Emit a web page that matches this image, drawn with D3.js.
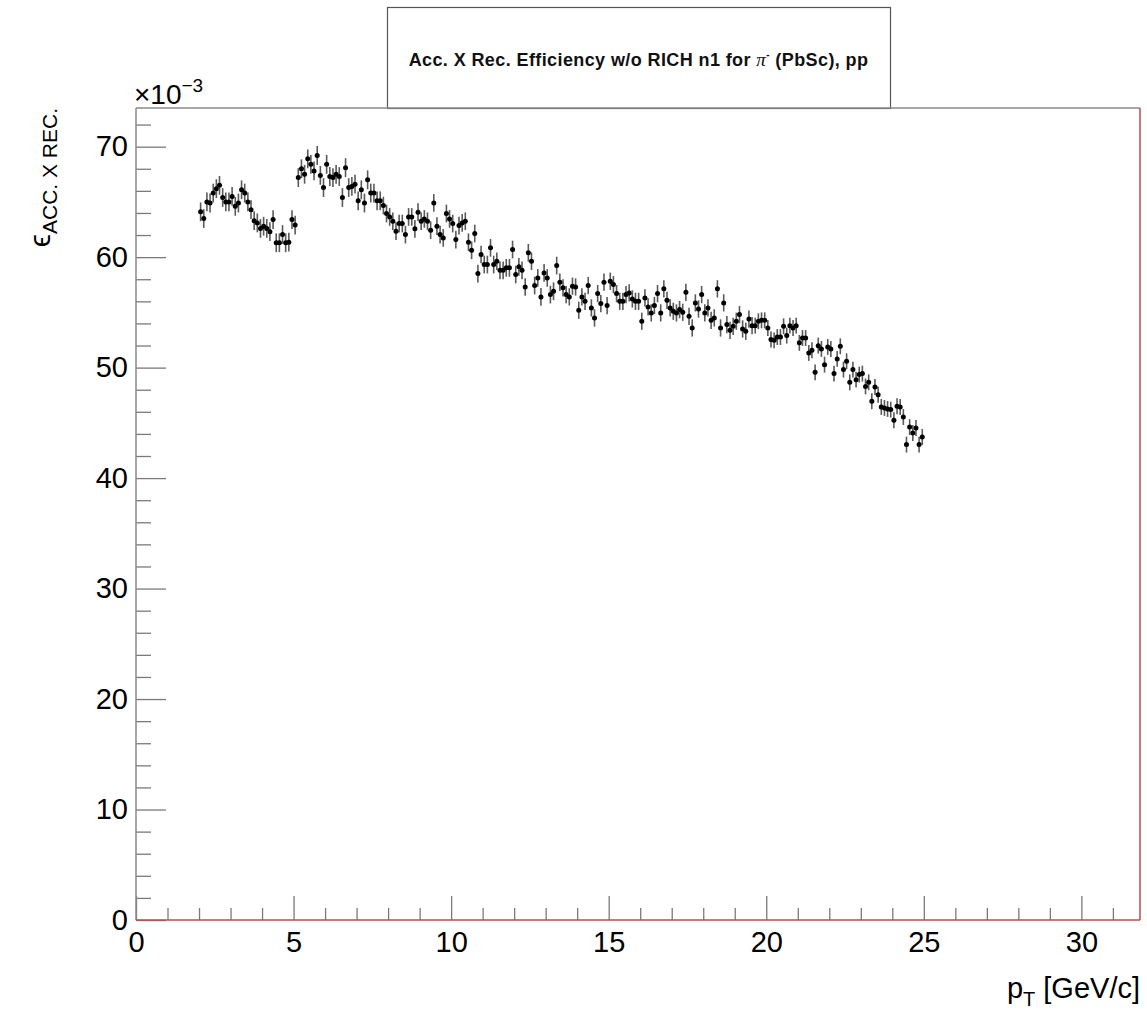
<!DOCTYPE html>
<html>
<head>
<meta charset="utf-8">
<script src="https://cdn.jsdelivr.net/npm/d3@7"></script>
<style>
  html, body { margin: 0; padding: 0; background: #fff; }
  svg { display: block; font-family: "Liberation Sans", Arial, Helvetica, sans-serif; }
</style>
</head>
<body>
<svg id="chart" width="1147" height="1010"></svg>
<script>
// Histogram binning in pT (GeV/c)
const binStart = 2.0;
const binWidth = 0.1;

// Efficiency per bin, in units of 1e-3
const effValues = [
  // 2.0 - 5.1
  64.1, 63.5, 65.0, 64.9, 65.8, 66.2, 66.5, 65.4, 65.0, 65.0,
  65.5, 64.6, 64.9, 66.1, 65.8, 65.0, 64.3, 63.3, 63.1, 62.6,
  62.8, 62.6, 62.3, 63.4, 61.3, 61.3, 62.05, 61.3, 61.35, 63.4,
  62.9,
  // 5.1 - 7.8
  67.2, 68.0, 67.5, 68.9, 68.4, 67.8, 69.2, 67.4, 66.3, 68.4,
  67.3, 67.2, 67.5, 67.3, 65.4, 68.1, 66.3, 66.4, 66.6, 65.1,
  66.1, 64.9, 67.0, 65.8, 65.8, 65.1, 65.1,
  // 7.8 - 13.5
  64.67, 63.95, 63.64, 63.25, 62.35, 63.04, 63.04, 62.04, 63.64, 63.64,
  62.56, 64.07, 63.25, 63.46, 63.25, 62.44, 64.91, 62.8, 62.04, 61.74,
  63.95, 63.46, 63.04, 61.59, 62.86, 63.1, 63.25, 61.35, 60.62, 62.14,
  58.51, 60.24, 59.33, 59.33, 60.84, 59.33, 59.63, 58.81, 58.81, 59.03,
  59.03, 60.69, 58.42, 59.12, 58.81, 57.3, 60.39, 59.63, 57.43, 58.12,
  56.4, 58.57, 58.12, 56.61, 56.91, 59.24, 57.73,
  // 13.5 - 19.6
  57.22, 56.61, 56.4, 57.37, 57.3, 55.19, 56.4, 56.0, 57.43, 55.4,
  54.5, 56.7, 55.8, 57.73, 55.62, 57.82, 57.52, 56.7, 56.0, 56.0,
  56.61, 56.76, 56.22, 56.0, 56.0, 54.2, 56.31, 55.49, 54.95, 55.62,
  56.7, 54.95, 57.13, 56.09, 55.4, 55.1, 54.95, 55.25, 55.01, 56.82,
  54.64, 53.59, 55.86, 55.31, 56.61, 54.95, 55.4, 54.28, 54.5, 57.13,
  53.59, 55.86, 53.9, 53.38, 53.74, 54.2, 54.8, 53.5, 53.29, 54.4,
  53.8,
  // 19.6 - 25.0
  53.8, 54.2, 54.28, 54.28, 53.59, 52.54, 52.47, 52.77, 52.77, 53.74,
  52.9, 53.8, 53.59, 53.8, 52.24, 52.68, 52.68, 51.33, 51.57, 49.57,
  51.99, 51.69, 50.27, 51.87, 51.69, 49.46, 50.79, 51.93, 49.82, 50.57,
  48.67, 49.82, 48.91, 49.37, 49.46, 48.3, 48.67, 46.95, 48.24, 47.55,
  46.44, 46.35, 46.26, 46.2, 45.23, 46.5, 46.44, 45.53, 43.03, 44.62,
  44.08, 44.53, 43.03, 43.72
];

// Statistical uncertainty (units of 1e-3) by pT range
const errRanges = [
  { from: 2.0,  to: 7.8,  err: 0.85 },
  { from: 7.8,  to: 13.5, err: 0.80 },
  { from: 13.5, to: 19.6, err: 0.78 },
  { from: 19.6, to: 25.0, err: 0.72 }
];

const xTickValues = [0, 5, 10, 15, 20, 25, 30];
const yTickValues = [0, 10, 20, 30, 40, 50, 60, 70];

const titleText = "Acc. X Rec. Efficiency w/o RICH n1 for ";
const titleTail = " (PbSc), pp";

// Build point table from the bins
const points = effValues.map((v, i) => {
  const pt = binStart + binWidth * (i + 0.5);
  const r = errRanges.find(e => pt >= e.from && pt < e.to) || errRanges[errRanges.length - 1];
  return { pt, lo: binStart + binWidth * i, hi: binStart + binWidth * (i + 1), v, err: r.err };
});

const svg = d3.select("#chart");
const frame = { left: 136, right: 1140, top: 108, bottom: 920 };

const x = d3.scaleLinear().domain([0, 31.86]).range([frame.left, frame.right]);
const y = d3.scaleLinear().domain([0, 73.5]).range([frame.bottom, frame.top]);

const tickColor = "#7a7a7a";

// Title box
svg.append("rect")
  .attr("x", 387.5).attr("y", 7.5).attr("width", 503).attr("height", 101)
  .attr("fill", "#fff").attr("stroke", "#555").attr("stroke-width", 1.2);

const title = svg.append("text")
  .attr("x", 638.5).attr("y", 66)
  .attr("text-anchor", "middle")
  .attr("font-size", 18).attr("letter-spacing", 0.4)
  .attr("font-weight", "bold").attr("fill", "#111");
title.append("tspan").text(titleText);
title.append("tspan").attr("font-family", "'Liberation Serif', 'DejaVu Serif', serif")
  .attr("font-style", "italic").attr("font-weight", "normal").attr("font-size", 19).text("\u03C0");
title.append("tspan").attr("font-size", 10).attr("dy", -8).text("-");
title.append("tspan").attr("dy", 8).text(titleTail);

// Minor ticks
const yMinor = d3.range(0, 73.5, 2).filter(t => t % 10 !== 0);
const xMinor = d3.range(0, 32, 1).filter(t => t % 5 !== 0);

svg.append("g")
  .attr("transform", `translate(${frame.left},0)`)
  .call(d3.axisLeft(y).tickValues(yMinor).tickSizeInner(-15).tickSizeOuter(0).tickFormat(""))
  .call(g => g.select(".domain").remove())
  .call(g => g.selectAll("line").attr("stroke", tickColor).attr("stroke-width", 1.3));

svg.append("g")
  .attr("transform", `translate(0,${frame.bottom})`)
  .call(d3.axisBottom(x).tickValues(xMinor).tickSizeInner(-12).tickSizeOuter(0).tickFormat(""))
  .call(g => g.select(".domain").remove())
  .call(g => g.selectAll("line").attr("stroke", tickColor).attr("stroke-width", 1.3));

// Major ticks with labels
svg.append("g")
  .attr("transform", `translate(${frame.left},0)`)
  .call(d3.axisLeft(y).tickValues(yTickValues).tickSizeInner(-30).tickSizeOuter(0).tickPadding(8).tickFormat(d3.format("d")))
  .call(g => g.select(".domain").remove())
  .call(g => g.selectAll("line").attr("stroke", tickColor).attr("stroke-width", 1.3))
  .call(g => g.selectAll("text").attr("font-size", 29).attr("fill", "#000")
    .attr("font-family", "'Liberation Sans', Arial, sans-serif"));

svg.append("g")
  .attr("transform", `translate(0,${frame.bottom})`)
  .call(d3.axisBottom(x).tickValues(xTickValues).tickSizeInner(-24).tickSizeOuter(0).tickPadding(11).tickFormat(d3.format("d")))
  .call(g => g.select(".domain").remove())
  .call(g => g.selectAll("line").attr("stroke", tickColor).attr("stroke-width", 1.3))
  .call(g => g.selectAll("text").attr("font-size", 29).attr("fill", "#000")
    .attr("font-family", "'Liberation Sans', Arial, sans-serif"));

// Frame: grey left and top, red bottom and right
svg.append("line").attr("x1", frame.left).attr("x2", frame.right).attr("y1", frame.top).attr("y2", frame.top)
  .attr("stroke", "#8a8a8a").attr("stroke-width", 1.3);
svg.append("line").attr("x1", frame.left).attr("x2", frame.left).attr("y1", frame.top).attr("y2", frame.bottom)
  .attr("stroke", "#8a8a8a").attr("stroke-width", 1.5);
svg.append("line").attr("x1", frame.left).attr("x2", frame.right).attr("y1", frame.bottom).attr("y2", frame.bottom)
  .attr("stroke", "#c04a4a").attr("stroke-width", 1.5);
svg.append("line").attr("x1", frame.right).attr("x2", frame.right).attr("y1", frame.top).attr("y2", frame.bottom)
  .attr("stroke", "#c04a4a").attr("stroke-width", 1.5);

// Exponent label
const expo = svg.append("text").attr("x", 134).attr("y", 104).attr("font-size", 28).attr("fill", "#000");
expo.append("tspan").text("\u00D710");
expo.append("tspan").attr("font-size", 19).attr("dy", -12).text("\u22123");

// Axis titles
const xt = svg.append("text").attr("x", frame.right).attr("y", 998)
  .attr("text-anchor", "end").attr("font-size", 29).attr("fill", "#000");
xt.append("tspan").text("p");
xt.append("tspan").attr("font-size", 20).attr("dy", 8).text("T");
xt.append("tspan").attr("dy", -8).text(" [GeV/c]");

const yt = svg.append("text")
  .attr("transform", `translate(50,${frame.top}) rotate(-90)`)
  .attr("text-anchor", "end").attr("font-size", 30).attr("fill", "#000");
yt.append("tspan").text("\u03F5");
yt.append("tspan").attr("font-size", 21).attr("dy", 7).text("ACC. X REC.");

// Data points with error bars
const marks = svg.append("g");
marks.selectAll("line.ey").data(points).join("line")
  .attr("class", "ey")
  .attr("x1", d => x(d.pt)).attr("x2", d => x(d.pt))
  .attr("y1", d => y(d.v - d.err)).attr("y2", d => y(d.v + d.err))
  .attr("stroke", "#5a5a5a").attr("stroke-width", 1.6);
marks.selectAll("line.ex").data(points).join("line")
  .attr("class", "ex")
  .attr("x1", d => x(d.lo)).attr("x2", d => x(d.hi))
  .attr("y1", d => y(d.v)).attr("y2", d => y(d.v))
  .attr("stroke", "#222").attr("stroke-width", 1.5);
marks.selectAll("circle").data(points).join("circle")
  .attr("cx", d => x(d.pt)).attr("cy", d => y(d.v)).attr("r", 2.5)
  .attr("fill", "#000");
</script>
</body>
</html>
